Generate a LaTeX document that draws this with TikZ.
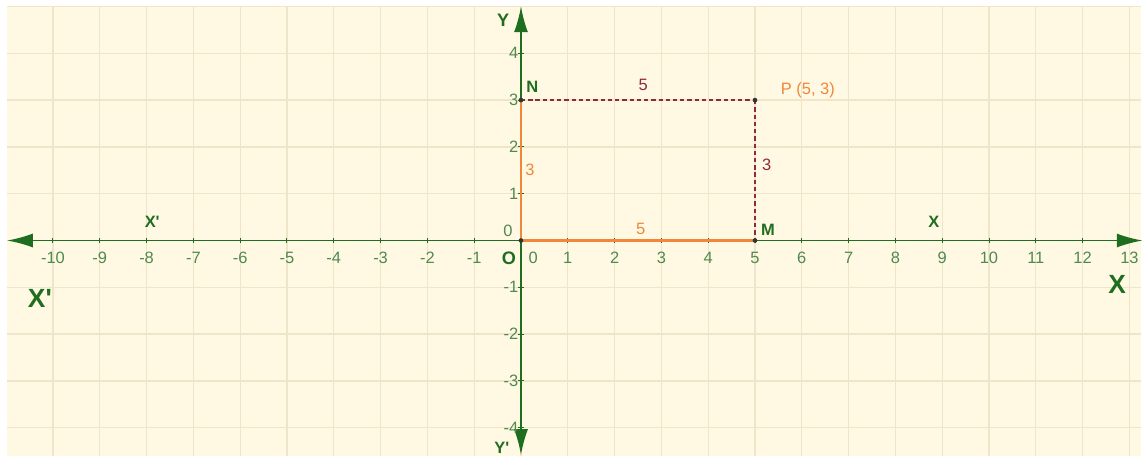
\documentclass[tikz,border=0pt]{standalone}
\usepackage{fontspec}
\setmainfont{Liberation Sans}
\usepackage{tikz}
\usetikzlibrary{arrows.meta}

\definecolor{paper}{HTML}{FFF9E4}
\definecolor{gridcol}{HTML}{EFE5CA}
\definecolor{axisgreen}{HTML}{1F6E1F}
\definecolor{ticklab}{HTML}{4F8A4F}
\definecolor{segorange}{HTML}{F0873A}
\definecolor{dashred}{HTML}{8E2A3C}

\begin{document}
\begin{tikzpicture}[scale=1,
    axis/.style={axisgreen, line width=1pt, {Latex[length=0.55cm,width=0.3cm]}-{Latex[length=0.55cm,width=0.3cm]}},
    ticklabel/.style={ticklab, font=\fontsize{10}{12}\selectfont, inner sep=0pt},
    axlabel/.style={axisgreen, font=\fontsize{10}{12}\selectfont\bfseries, inner sep=0pt},
    biglabel/.style={axisgreen, font=\fontsize{16}{18}\selectfont\bfseries, inner sep=0pt},
    seg/.style={segorange, line width=1.3pt},
    proj/.style={dashred, line width=1.2pt, dash pattern=on 2.6pt off 1.8pt},
    dot/.style={fill=black!80}
]
\useasboundingbox (-11.132,-4.690) rectangle (13.312,5.139);
\fill[paper] (-10.99,-4.6) rectangle (13.25,5.0);
\draw[gridcol, line width=0.8pt] (-10.99,-4.6) grid (13.25,5.0);

% points
\coordinate (O) at (0,0);
\coordinate (N) at (0,3);
\coordinate (M) at (5,0);
\coordinate (P) at (5,3);

% axes
\draw[axis] (-10.98,0) -- (13.28,0);
\draw[axis] (0,-4.58) -- (0,5.0);

\foreach \x in {-10,...,-1,1,2,...,12}
  \draw[axisgreen, line width=0.6pt] (\x,-0.06) -- (\x,0.06);
\foreach \y in {-4,...,-1,1,2,3,4}
  \draw[axisgreen, line width=0.6pt] (-0.06,\y) -- (0.06,\y);

\foreach \x in {-10,...,-1,1,2,...,13}
  \node[ticklabel] at (\x,-0.37) {\x};
\foreach \y in {-4,...,-1,1,2,3,4}
  \node[ticklabel, anchor=east] at (-0.05,\y) {\y};
\node[ticklabel] at (0.26,-0.37) {0};
\node[ticklabel] at (-0.28,0.2) {0};

\node[axlabel, font=\fontsize{11}{13}\selectfont\bfseries] at (-0.26,-0.37) {O};
\node[axlabel] at (-7.88,0.4) {X\textquotesingle};
\node[axlabel] at (8.82,0.4) {X};
\node[axlabel, font=\fontsize{11}{13}\selectfont\bfseries] at (-0.38,4.71) {Y};
\node[axlabel] at (-0.41,-4.43) {Y\textquotesingle};
\node[biglabel] at (-10.28,-1.23) {X\textquotesingle};
\node[biglabel] at (12.74,-0.93) {X};

% rectangle ONPM
\draw[seg] (O) -- (N);
\draw[seg] (O) -- (M);
\draw[proj] (N) -- (P);
\draw[proj] (P) -- (M);

\foreach \p in {O,N,M,P}
  \fill[dot] (\p) circle (0.05);

\node[axlabel] at (0.24,3.28) {N};
\node[axlabel] at (5.28,0.22) {M};
\node[segorange, font=\fontsize{10}{12}\selectfont] at (6.13,3.21) {P (5, 3)};
\node[dashred, font=\fontsize{10}{12}\selectfont] at (2.61,3.32) {5};
\node[dashred, font=\fontsize{10}{12}\selectfont] at (5.25,1.61) {3};
\node[segorange, font=\fontsize{10}{12}\selectfont] at (0.19,1.5) {3};
\node[segorange, font=\fontsize{10}{12}\selectfont] at (2.56,0.25) {5};
\end{tikzpicture}
\end{document}
